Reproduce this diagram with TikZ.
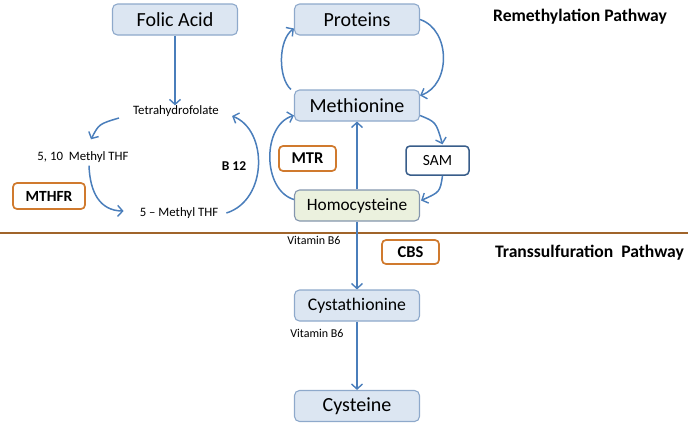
\documentclass[tikz,border=0pt]{standalone}
\usepackage{fontspec}
\setmainfont{Carlito}
\usetikzlibrary{arrows.meta,calc}
\definecolor{arrc}{HTML}{4A7EBB}
\definecolor{boxfill}{HTML}{DCE6F2}
\definecolor{boxdraw}{HTML}{8EA9CB}
\definecolor{greenfill}{HTML}{EBF1DE}
\definecolor{greendraw}{HTML}{8496AE}
\definecolor{orng}{HTML}{D07A2E}
\definecolor{samdraw}{HTML}{385D8A}
\definecolor{brn}{HTML}{A0642A}
\tikzset{
  mainbox/.style={draw=boxdraw,fill=boxfill,line width=1.1pt,rounded corners=5pt,minimum width=125pt,minimum height=31pt,inner sep=0pt},
  greenbox/.style={mainbox,draw=greendraw,fill=greenfill},
  enzbox/.style={draw=orng,line width=1.7pt,rounded corners=4pt,inner sep=0pt,font=\fontsize{16.5}{18}\selectfont\bfseries},
  samb/.style={draw=samdraw,fill=white,line width=1.5pt,rounded corners=4pt,minimum width=63pt,minimum height=29pt,inner sep=0pt,font=\fontsize{15.5}{17}\selectfont},
  lbl/.style={inner sep=0pt,font=\fontsize{12.8}{14}\selectfont},
  smalllbl/.style={inner sep=0pt,font=\fontsize{12}{13}\selectfont},
  pathlbl/.style={inner sep=0pt,font=\fontsize{17.6}{19}\selectfont\bfseries},
  arr/.style={draw=arrc,line width=1.5pt,-{Straight Barb[length=5pt,width=11pt,line width=1.4pt]}},
  sarr/.style={arr,line width=2pt},
}
\begin{document}
\begin{tikzpicture}[x=1pt,y=-1pt]
\useasboundingbox (0,0) rectangle (688,426);
% nodes
\node[mainbox,font=\fontsize{20}{22}\selectfont] (folic) at (175,19.5) {Folic Acid};
\node[mainbox,font=\fontsize{20}{22}\selectfont] (prot) at (357,19.5) {Proteins};
\node[mainbox,font=\fontsize{20}{22}\selectfont] (meth) at (357,105.5) {Methionine};
\node[samb] (sam) at (437.5,160.5) {SAM};
\node[enzbox,minimum width=57pt,minimum height=25pt] (mtr) at (307.5,158.5) {MTR};
\node[greenbox,font=\fontsize{17.3}{19}\selectfont] (homo) at (357,205.5) {Homocysteine};
\node[mainbox,font=\fontsize{17.7}{19}\selectfont] (cysta) at (357,305.5) {Cystathionine};
\node[mainbox,font=\fontsize{20}{22}\selectfont] (cyst) at (357,406) {Cysteine};
\node[enzbox,minimum width=57pt,minimum height=24pt] (cbs) at (410.5,252) {CBS};
\node[enzbox,minimum width=72pt,minimum height=26pt,font=\fontsize{15.5}{17}\selectfont\bfseries] (mthfr) at (49,196) {MTHFR};
\node[lbl] (thf) at (176,111) {Tetrahydrofolate};
\node[lbl] (m510) at (83,157) {5, 10\ \ Methyl THF};
\node[lbl] (m5) at (179,213) {5 -- Methyl THF};
\node[inner sep=0pt,font=\fontsize{13.5}{15}\selectfont\bfseries] (b12) at (234,166) {B 12};
\node[smalllbl] (vb1) at (314,240) {Vitamin B6};
\node[smalllbl] (vb2) at (317,333) {Vitamin B6};
\node[pathlbl] (remeth) at (580,17) {Remethylation Pathway};
\node[pathlbl] (trans) at (589.5,253) {Transsulfuration\ \ Pathway};
% separator
\draw[brn,line width=1.4pt] (0,233) -- (688,233);
% connectors
\draw[sarr] (folic) -- (thf.north -| folic);
\draw[arr] ($(thf.west)+(-14,7)$) .. controls ($(thf.west)+(-34,13)$) .. ($(m510.north)+(8,-12)$);
\draw[arr] ($(m510.south)+(6,3)$) .. controls ($(m510.south)+(7,30)$) and ($(m510.south)+(17,48)$) .. ($(m5.west)+(-16,-2)$);
\draw[arr] ($(m5.east)+(8,0)$) .. controls (268,200) and (268,130) .. ($(thf.east)+(13,5)$);
\draw[arr] ($(homo.west)+(0,-6)$) .. controls (262,190) and (262,125) .. ($(meth.west)+(0,10)$);
\draw[arr] ($(meth.north west)+(-3,0)$) .. controls (278,78) and (278,40) .. ($(prot.west)+(0,9)$);
\draw[arr] ($(prot.east)+(0,0)$) .. controls (451,30) and (451,85) .. ($(meth.east)+(0,-10)$);
\draw[arr] ($(meth.east)+(0,10)$) .. controls (436,122) .. ($(sam.north)+(5,-1)$);
\draw[arr] ($(sam.south)+(5,0)$) .. controls (440,192) .. ($(homo.east)+(1,-5)$);
\draw[sarr] (homo) -- (meth);
\draw[sarr] (homo) -- (cysta);
\draw[sarr] (cysta) -- (cyst);
\end{tikzpicture}
\end{document}
